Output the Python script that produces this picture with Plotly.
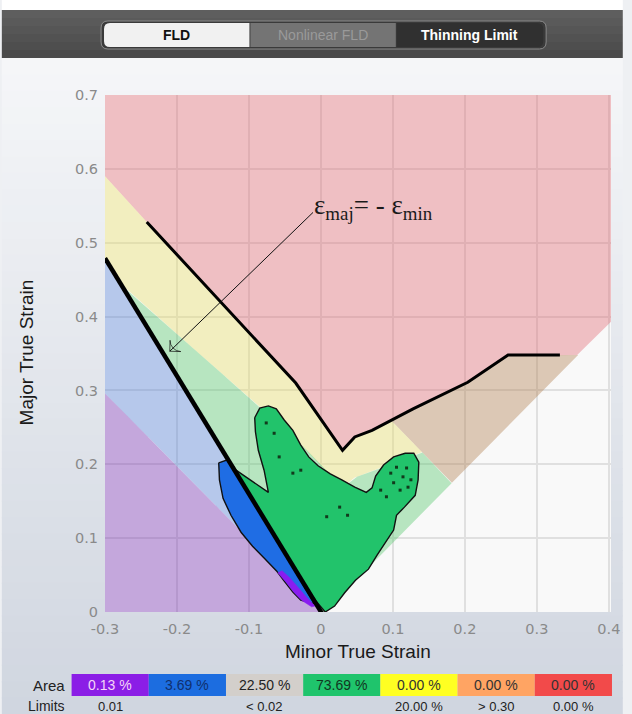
import numpy as np
import plotly.graph_objects as go

# ---------------- data ----------------
# forming limit curve (major vs minor true strain)
flc_x = [-0.300, -0.242, -0.035, 0.030, 0.047, 0.071, 0.128, 0.204, 0.260, 0.332]
flc_y = [0.590, 0.528, 0.310, 0.219, 0.237, 0.246, 0.275, 0.311, 0.348, 0.348]
# safety-margin curve (lower edge of the yellow zone)
margin_y = [0.462, 0.412, 0.235, 0.168, 0.182, 0.190, 0.212, 0.240, 0.270, 0.270]
# pure shear line  (eps_maj = - eps_min) drawn thick
shear_x = [-0.300, 0.004]
shear_y = [0.479, -0.006]
# compression boundary (purple zone)
compress_x = [-0.300, 0.000]
compress_y = [0.296, 0.000]
# uniaxial / white boundary
uniax_x = [0.005, 0.403]
uniax_y = [0.000, 0.393]
# thinning limit boundary (tan zone)
thin_x = [0.096, 0.180]
thin_y = [0.261, 0.177]
# annotation arrow (tail -> head)
arrow_x = [-0.011, -0.210]
arrow_y = [0.541, 0.353]

# measured strain clouds
green_x = [-0.092, -0.085, -0.073, -0.062, -0.051, -0.039, -0.028, -0.017, -0.004, 0.013,
           0.029, 0.047, 0.063, 0.071, 0.076, 0.087, 0.101, 0.117, 0.129, 0.136,
           0.135, 0.131, 0.116, 0.105, 0.101, 0.090, 0.078, 0.066, 0.048, 0.033,
           0.019, 0.006, -0.008, -0.035, -0.062, -0.089, -0.106, -0.118, -0.095, -0.073,
           -0.079, -0.087, -0.091]
green_y = [0.263, 0.276, 0.279, 0.275, 0.260, 0.246, 0.226, 0.210, 0.198, 0.187,
           0.179, 0.169, 0.162, 0.168, 0.184, 0.199, 0.210, 0.215, 0.215, 0.203,
           0.179, 0.158, 0.142, 0.131, 0.111, 0.095, 0.077, 0.058, 0.043, 0.026,
           0.008, 0.000, 0.016, 0.057, 0.100, 0.143, 0.169, 0.192, 0.177, 0.162,
           0.192, 0.219, 0.244]
blue_x = [-0.142, -0.130, -0.122, -0.009, -0.028, -0.039, -0.051, -0.062, -0.079, -0.095,
          -0.111, -0.125, -0.136, -0.141]
blue_y = [0.202, 0.206, 0.198, 0.011, 0.016, 0.027, 0.042, 0.056, 0.073, 0.089,
          0.108, 0.131, 0.154, 0.179]
purple_x = [-0.060, -0.049, -0.038, -0.027, -0.013, -0.008, -0.019, -0.030, -0.043, -0.054]
purple_y = [0.053, 0.041, 0.027, 0.016, 0.007, 0.008, 0.019, 0.031, 0.046, 0.056]
speck_x = [-0.076, -0.065, -0.058, -0.039, -0.028, 0.026, 0.008, 0.037, 0.097, 0.105,
           0.119, 0.101, 0.110, 0.121, 0.083, 0.091, 0.114, 0.125]
speck_y = [0.256, 0.242, 0.210, 0.188, 0.192, 0.142, 0.129, 0.131, 0.188, 0.196,
           0.195, 0.175, 0.165, 0.169, 0.165, 0.156, 0.183, 0.179]

# legend table
area_labels = ["0.13 %", "3.69 %", "22.50 %", "73.69 %", "0.00 %", "0.00 %", "0.00 %"]
area_colors = ["#8b1ee6", "#1c6de0", "#d3cfcb", "#1fc46c", "#ffff22", "#ffa463", "#f24a4a"]
area_text_colors = ["#f5d6f7", "#10306e", "#222222", "#12361f", "#333333", "#333333", "#333333"]
limit_labels = ["0.01", "", "< 0.02", "", "20.00 %", "> 0.30", "0.00 %"]

tab_labels = ["FLD", "Nonlinear FLD", "Thinning Limit"]

x_ticks = [-0.3, -0.2, -0.1, 0, 0.1, 0.2, 0.3, 0.4]
x_ticktext = ["-0.3", "-0.2", "-0.1", "0", "0.1", "0.2", "0.3", "0.4"]
y_ticks = [0, 0.1, 0.2, 0.3, 0.4, 0.5, 0.6, 0.7]
y_ticktext = ["0", "0.1", "0.2", "0.3", "0.4", "0.5", "0.6", "0.7"]

# ---------------- geometry helpers ----------------
X0, X1 = -0.3, 0.403
Y0, Y1 = 0.0, 0.7
W, H = 632, 714
ML, MR, MT, MB = 105, 12, 95, 102
PW, PH = W - ML - MR, H - MT - MB


def px(xp):
    return (xp - ML) / PW


def py(yp):
    return (H - MB - yp) / PH


def lin(xs, ys):
    s = (ys[1] - ys[0]) / (xs[1] - xs[0])
    return lambda x: ys[0] + s * (np.asarray(x) - xs[0])


flc = lambda x: np.interp(x, flc_x, flc_y)
margin = lambda x: np.interp(x, flc_x, margin_y)
shear = lin(shear_x, shear_y)
comp = lin(compress_x, compress_y)
uni = lin(uniax_x, uniax_y)
thin = lin(thin_x, thin_y)

xs = np.linspace(X0, X1, 2813)


def band(lo, up):
    mask = up > lo
    outx, outy = [], []
    idx = np.where(mask)[0]
    if len(idx) == 0:
        return outx, outy
    segs = np.split(idx, np.where(np.diff(idx) > 1)[0] + 1)
    for sg in segs:
        sx = xs[sg]
        outx += list(sx) + list(sx[::-1]) + [None]
        outy += list(up[sg]) + list(lo[sg][::-1]) + [None]
    return outx, outy


zero = np.zeros_like(xs)
top = np.full_like(xs, Y1)
zones = [
    ("pink", np.maximum(flc(xs), uni(xs)), top, "rgba(226,106,116,0.40)"),
    ("tan", np.maximum(uni(xs), thin(xs)), flc(xs), "rgba(178,128,80,0.40)"),
    ("yellow", np.maximum(margin(xs), shear(xs)), np.minimum(flc(xs), thin(xs)), "rgba(233,222,104,0.40)"),
    ("green", np.maximum.reduce([shear(xs), uni(xs), zero]), np.minimum(margin(xs), thin(xs)), "rgba(84,200,108,0.40)"),
    ("blue", np.maximum(comp(xs), zero), np.minimum(shear(xs), top), "rgba(82,128,214,0.40)"),
    ("purple", zero, comp(xs), "rgba(118,44,178,0.40)"),
]

fig = go.Figure()
for name, lo, up, col in zones:
    zx, zy = band(lo, up)
    fig.add_trace(go.Scatter(x=zx, y=zy, mode="lines", fill="toself", fillcolor=col,
                             line=dict(width=0), hoverinfo="skip", showlegend=False))

# strain clouds
fig.add_trace(go.Scatter(x=green_x + [green_x[0]], y=green_y + [green_y[0]], mode="lines",
                         fill="toself", fillcolor="#22c36b", line=dict(color="#111", width=1.4),
                         showlegend=False))
fig.add_trace(go.Scatter(x=blue_x + [blue_x[0]], y=blue_y + [blue_y[0]], mode="lines",
                         fill="toself", fillcolor="#1f6de4", line=dict(color="#111", width=1.4),
                         showlegend=False))
fig.add_trace(go.Scatter(x=purple_x + [purple_x[0]], y=purple_y + [purple_y[0]], mode="lines",
                         fill="toself", fillcolor="#8a1cf0", line=dict(color="#8a1cf0", width=0.5),
                         showlegend=False))
fig.add_trace(go.Scatter(x=speck_x, y=speck_y, mode="markers",
                         marker=dict(symbol="square", size=3, color="#123a1c"), showlegend=False))

# curves
fig.add_trace(go.Scatter(x=flc_x[1:], y=flc_y[1:], mode="lines",
                         line=dict(color="#000", width=3), showlegend=False))
fig.add_trace(go.Scatter(x=shear_x, y=shear_y, mode="lines",
                         line=dict(color="#000", width=4.5), showlegend=False))
# annotation arrow
fig.add_trace(go.Scatter(x=arrow_x, y=arrow_y, mode="lines+markers",
                         line=dict(color="#111", width=1),
                         marker=dict(symbol="arrow-wide-open", size=[0, 11], angleref="previous",
                                     color="#111", line=dict(color="#111", width=1)),
                         showlegend=False))

shapes = []
# top white strip + dark toolbar
shapes.append(dict(type="rect", xref="paper", yref="paper", x0=px(0), x1=px(W), y0=py(0), y1=py(10),
                   fillcolor="#ffffff", line=dict(width=0), layer="below"))
bar_cols = ["#5e5e5e", "#5a5a5a", "#565656", "#525252", "#4e4e4e", "#4a4a4a"]
for i, c in enumerate(bar_cols):
    a = 10 + i * 8
    shapes.append(dict(type="rect", xref="paper", yref="paper", x0=px(0), x1=px(W), y0=py(a), y1=py(a + 8),
                       fillcolor=c, line=dict(width=0), layer="below"))
# panel gradient
N = 40
c0 = np.array([246, 247, 249])
c1 = np.array([208, 214, 224])
for i in range(N):
    a = 58 + (H - 58) * i / N
    b = 58 + (H - 58) * (i + 1) / N + 1
    c = c0 + (c1 - c0) * (i + 0.5) / N
    shapes.append(dict(type="rect", xref="paper", yref="paper", x0=px(0), x1=px(W), y0=py(a), y1=py(b),
                       fillcolor="rgb(%d,%d,%d)" % tuple(c.astype(int)), line=dict(width=0), layer="below"))
# plot area background
shapes.append(dict(type="rect", xref="paper", yref="paper", x0=0, x1=1, y0=0, y1=1,
                   fillcolor="#f9f9f9", line=dict(width=0), layer="below"))


def rpath(x0, y0, x1, y1, rl, rr):
    s = "M %f,%f L %f,%f " % (px(x0 + rl), py(y0), px(x1 - rr), py(y0))
    if rr:
        s += "Q %f,%f %f,%f " % (px(x1), py(y0), px(x1), py(y0 + rr))
    s += "L %f,%f " % (px(x1), py(y1 - rr))
    if rr:
        s += "Q %f,%f %f,%f " % (px(x1), py(y1), px(x1 - rr), py(y1))
    s += "L %f,%f " % (px(x0 + rl), py(y1))
    if rl:
        s += "Q %f,%f %f,%f " % (px(x0), py(y1), px(x0), py(y1 - rl))
    s += "L %f,%f " % (px(x0), py(y0 + rl))
    if rl:
        s += "Q %f,%f %f,%f " % (px(x0), py(y0), px(x0 + rl), py(y0))
    return s + "Z"


tab_x = [104, 252, 401, 551]
tab_fill = ["#f1f1f1", "#747474", "#303030"]
tab_font = ["#111111", "#9a9a9a", "#ffffff"]
shapes.append(dict(type="path", xref="paper", yref="paper", path=rpath(101, 21, 554, 49, 7, 7),
                   fillcolor="#3a3a3a", line=dict(color="#8a8a8a", width=1), layer="below"))
for i in range(3):
    rl = 6 if i == 0 else 0
    rr = 6 if i == 2 else 0
    shapes.append(dict(type="path", xref="paper", yref="paper",
                       path=rpath(tab_x[i] + (0 if i == 0 else 1), 23, tab_x[i + 1], 47, rl, rr),
                       fillcolor=tab_fill[i], line=dict(width=0), layer="below"))

annotations = []


def note(xp, yp, text, size, color, family="Liberation Sans", xanchor="center", **kw):
    annotations.append(dict(xref="paper", yref="paper", x=px(xp), y=py(yp), text=text,
                            xanchor=xanchor, yanchor="middle", showarrow=False,
                            font=dict(family=family, size=size, color=color), **kw))


for i, t in enumerate(tab_labels):
    note((tab_x[i] + tab_x[i + 1]) / 2, 35, ("<b>%s</b>" % t) if i != 1 else t, 14, tab_font[i])

# legend table
cell_x0 = 71
cell_w = (621 - 71) / 7
for i in range(7):
    a = cell_x0 + i * cell_w
    shapes.append(dict(type="rect", xref="paper", yref="paper", x0=px(a), x1=px(a + cell_w),
                       y0=py(674), y1=py(696), fillcolor=area_colors[i], line=dict(width=0), layer="above"))
    note(a + cell_w / 2, 685, area_labels[i], 14, area_text_colors[i])
    if limit_labels[i]:
        note(a + cell_w / 2, 706, limit_labels[i], 13, "#222")
note(66, 685, "Area", 15, "#222", xanchor="right")
note(66, 706, "Limits", 14, "#222", xanchor="right")

# axis titles
note(363, 651, "Minor True Strain", 19, "#1a1a1a")
note(25, 352, "Major True Strain", 19, "#1a1a1a", textangle=-90)

# label of the pure-shear line
annotations.append(dict(x=-0.012, y=0.549, xref="x", yref="y", xanchor="left", yanchor="middle",
                        text="ε<sub>maj</sub>= - ε<sub>min</sub>", showarrow=False,
                        font=dict(family="Liberation Serif", size=27, color="#1a1a1a")))

fig.update_layout(
    width=W, height=H,
    margin=dict(l=ML, r=MR, t=MT, b=MB),
    paper_bgcolor="#eef0f3",
    plot_bgcolor="rgba(0,0,0,0)",
    shapes=shapes,
    annotations=annotations,
    showlegend=False,
    xaxis=dict(range=[X0, X1], tickvals=x_ticks, ticktext=x_ticktext, showgrid=True, gridcolor="#e0e0e0",
               gridwidth=1.5, zeroline=False, showline=False, ticks="", ticklabelstandoff=6,
               tickfont=dict(family="DejaVu Sans", size=14.5, color="#8a8a8a"), fixedrange=True),
    yaxis=dict(range=[Y0, Y1], tickvals=y_ticks, ticktext=y_ticktext, showgrid=True, gridcolor="#e0e0e0",
               gridwidth=1.5, zeroline=False, showline=False, ticks="", ticklabelstandoff=6,
               tickfont=dict(family="DejaVu Sans", size=14.5, color="#8a8a8a"), fixedrange=True),
)

fig.write_html("out.html", config={"displayModeBar": False},
               post_script="document.body.style.margin='0px';document.body.style.overflow='hidden';")
